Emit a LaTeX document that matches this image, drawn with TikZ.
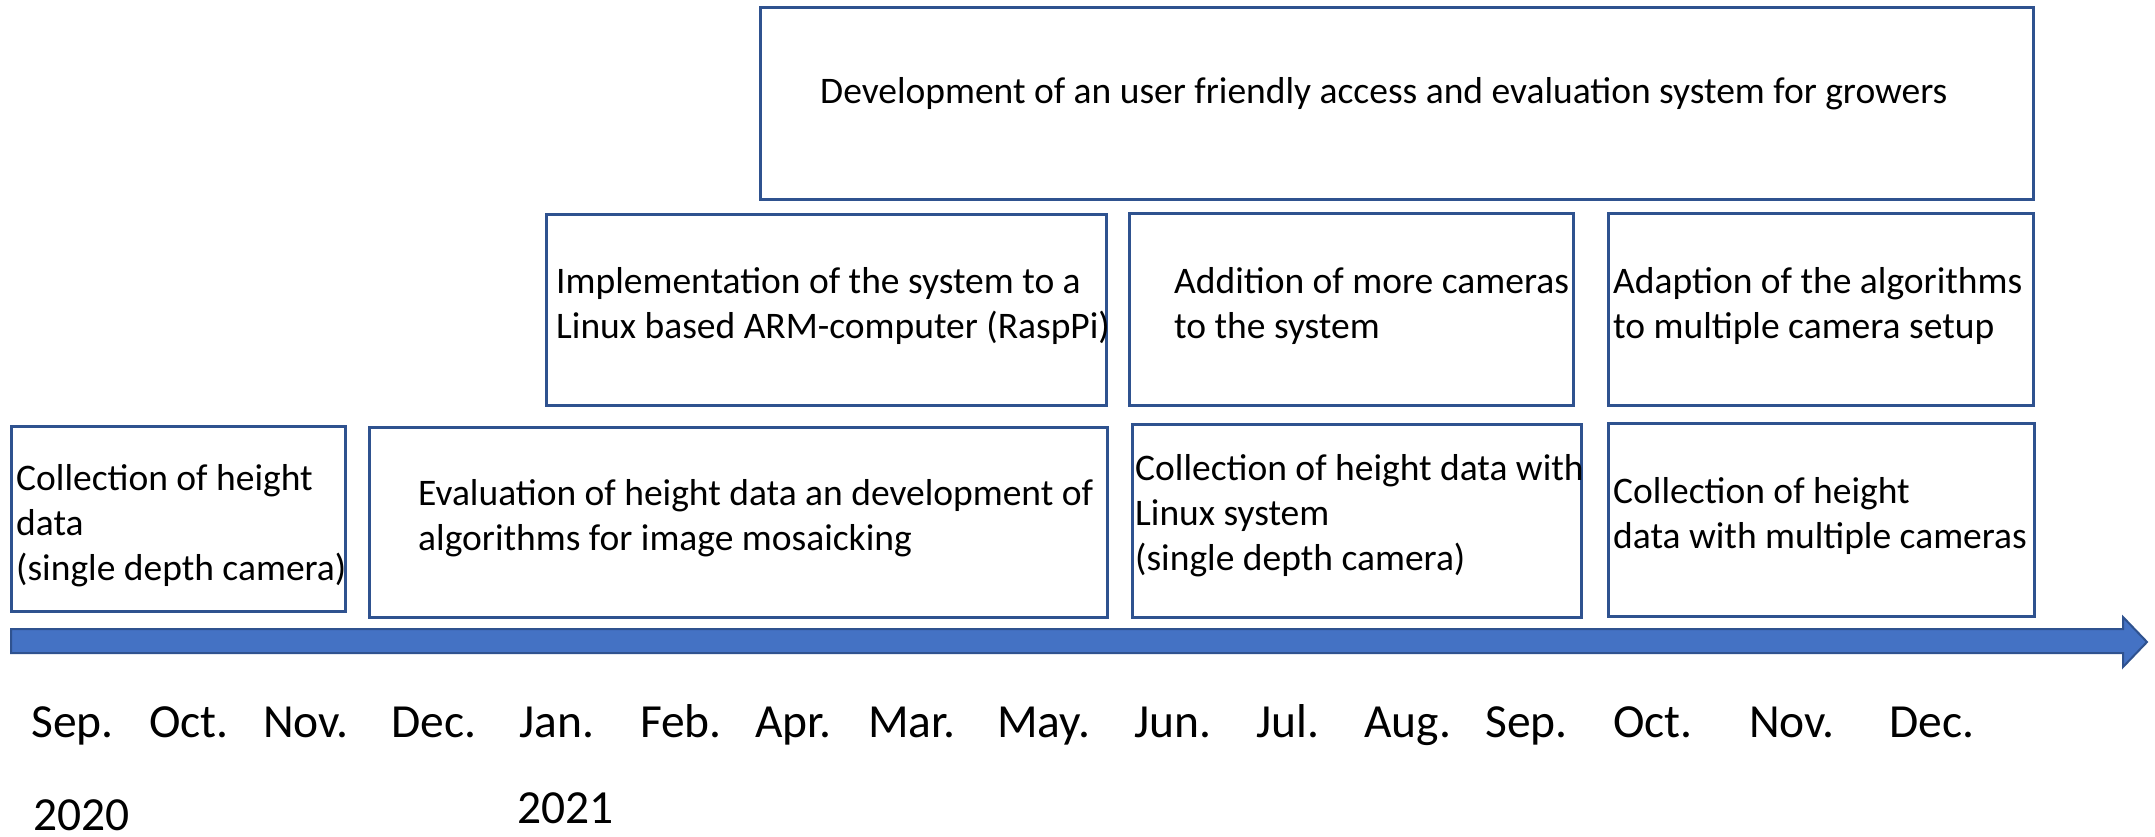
\documentclass[tikz,border=0pt]{standalone}
\usepackage{fontspec}
\setmainfont{Carlito}
\definecolor{boxblue}{HTML}{2F528F}
\definecolor{arrowblue}{HTML}{4472C4}
\tikzset{
  taskbox/.style={draw=boxblue, line width=3pt, fill=white, inner sep=0pt},
  tasktext/.style={anchor=base west, align=left, inner sep=0pt, font=\fontsize{37.5}{45}\selectfont},
  monthtext/.style={anchor=base west, inner sep=0pt, font=\fontsize{47.5}{55}\selectfont},
}
\begin{document}
\begin{tikzpicture}[x=1pt,y=-1pt]
\useasboundingbox (0,0) rectangle (2155,836);
% boxes
\draw[taskbox] (760,7) rectangle (2033,199);
\draw[taskbox] (546,214) rectangle (1106,405);
\draw[taskbox] (1129,213) rectangle (1573,405);
\draw[taskbox] (1608,213) rectangle (2033,405);
\draw[taskbox] (11,426) rectangle (345,611);
\draw[taskbox] (369,427) rectangle (1107,617);
\draw[taskbox] (1132,424) rectangle (1581,617);
\draw[taskbox] (1608,423) rectangle (2034,616);
% texts (anchored at the baseline of the last line)
\node[tasktext] (t0) at (820,103) {Development of an user friendly access and evaluation system for growers};
\node[tasktext] (t1) at (556,338) {Implementation of the system to a\\Linux based ARM-computer (RaspPi)};
\node[tasktext] (t2) at (1174,338) {Addition of more cameras\\to the system};
\node[tasktext] (t3) at (1613,338) {Adaption of the algorithms\\to multiple camera setup};
\node[tasktext] (t4) at (16,580) {Collection of height\\data\\(single depth camera)};
\node[tasktext] (t5) at (418,550) {Evaluation of height data an development of\\algorithms for image mosaicking};
\node[tasktext] (t6) at (1135,570) {Collection of height data with\\Linux system\\(single depth camera)};
\node[tasktext] (t7) at (1613,548) {Collection of height\\data with multiple cameras};
% arrow
\filldraw[fill=arrowblue, draw=boxblue, line width=2pt, line join=miter]
  (11,629) -- (2123,629) -- (2123,617) -- (2147,642) -- (2123,667) -- (2123,653) -- (11,653) -- cycle;
% months
\node[monthtext] (m1) at (31,737) {Sep.};
\node[monthtext] (m2) at (149,737) {Oct.};
\node[monthtext] (m3) at (263,737) {Nov.};
\node[monthtext] (m4) at (391,737) {Dec.};
\node[monthtext] (m5) at (519,737) {Jan.};
\node[monthtext] (m6) at (640,737) {Feb.};
\node[monthtext] (m7) at (755,737) {Apr.};
\node[monthtext] (m8) at (868,737) {Mar.};
\node[monthtext] (m9) at (997,737) {May.};
\node[monthtext] (m10) at (1134,737) {Jun.};
\node[monthtext] (m11) at (1256,737) {Jul.};
\node[monthtext] (m12) at (1364,737) {Aug.};
\node[monthtext] (m13) at (1485,737) {Sep.};
\node[monthtext] (m14) at (1613,737) {Oct.};
\node[monthtext] (m15) at (1749,737) {Nov.};
\node[monthtext] (m16) at (1889,737) {Dec.};
\node[monthtext] (y1) at (33,830) {2020};
\node[monthtext] (y2) at (517,823) {2021};
\end{tikzpicture}
\end{document}
